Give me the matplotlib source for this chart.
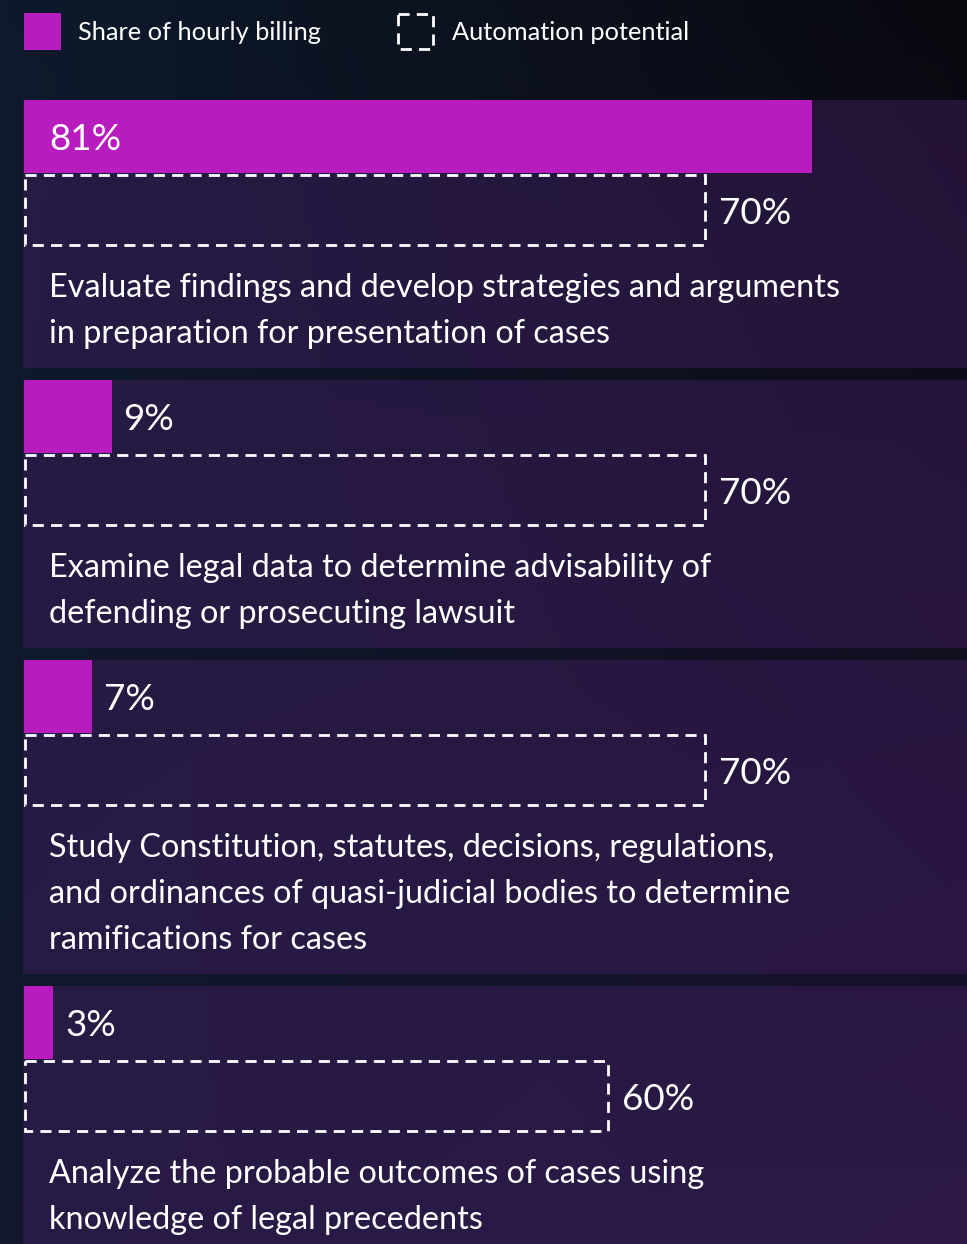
import numpy as np
import matplotlib.pyplot as plt
from matplotlib.patches import Rectangle
from matplotlib.colors import to_rgb

# data
tasks = [
    "Evaluate findings and develop strategies and arguments\nin preparation for presentation of cases",
    "Examine legal data to determine advisability of\ndefending or prosecuting lawsuit",
    "Study Constitution, statutes, decisions, regulations,\nand ordinances of quasi-judicial bodies to determine\nramifications for cases",
    "Analyze the probable outcomes of cases using\nknowledge of legal precedents",
]
billing_share = [81, 9, 7, 3]
automation = [70, 70, 70, 60]
legend_labels = ["Share of hourly billing", "Automation potential"]

MAGENTA = "#b81cbf"
FONT = ["Lato", "DejaVu Sans"]

W, H = 967, 1244
PX = 9.73          # pixels per percentage point
X0 = 24            # left edge of bars in pixels

fig = plt.figure(figsize=(W / 100, H / 100), dpi=100)
ax = fig.add_axes([0, 0, 1, 1])
ax.set_xlim(-X0 / PX, (W - X0) / PX)
ax.set_ylim(H, 0)
ax.axis("off")

def px(v):
    return v / PX

# background gradient (4 corners)
tl, tr = np.array(to_rgb("#0e1a2c")), np.array(to_rgb("#09090f"))
bl, br = np.array(to_rgb("#12182e")), np.array(to_rgb("#1a1430"))
u = np.linspace(0, 1, 200)[None, :, None]
v = np.linspace(0, 1, 250)[:, None, None]
bg = (1 - v) * ((1 - u) * tl + u * tr) + v * ((1 - u) * bl + u * br)
ax.imshow(bg, extent=[-X0 / PX, (W - X0) / PX, H, 0], aspect="auto", zorder=0)

dash = (0, (4, 2.6))

# rows
top = 100
for task, share, auto in zip(tasks, billing_share, automation):
    nlines = task.count("\n") + 1
    height = 186 + (nlines - 1) * 46 + 36
    ax.add_patch(Rectangle((px(-1), top), px(W), height,
                           facecolor="#3d1d5c", alpha=0.5, lw=0, zorder=1))
    # share of hourly billing bar
    ax.barh(top + 36.5, share, height=73, left=0, color=MAGENTA, zorder=2)
    if share > 30:
        xs = px(25)
    else:
        xs = share + px(12)
    ax.text(xs, top + 40, f"{share}%", color="white", fontsize=26.5,
            family=FONT, va="center", ha="left", zorder=3)
    # automation potential dashed box
    ax.add_patch(Rectangle((px(1), top + 75), auto - px(1), 70, fill=False,
                           edgecolor="white", lw=2, linestyle=dash, zorder=3))
    ax.text(auto + px(14), top + 114, f"{auto}%", color="white", fontsize=26.5,
            family=FONT, va="center", ha="left", zorder=3)
    # description
    ax.text(px(25), top + 186 - 13, task, color="white", fontsize=23.3,
            family=FONT, va="top", ha="left", linespacing=1.66, zorder=3)
    top += height + 12

# legend
ax.add_patch(Rectangle((0, 13), px(37), 37, facecolor=MAGENTA, lw=0, zorder=3))
ax.text(px(54), 33, legend_labels[0], color="white", fontsize=18.3, family=FONT,
        va="center", ha="left", zorder=3)
ax.add_patch(Rectangle((px(374), 14), px(35), 35, fill=False, edgecolor="white",
                       lw=2, linestyle=dash, zorder=3))
ax.text(px(428), 33, legend_labels[1], color="white", fontsize=18.3, family=FONT,
        va="center", ha="left", zorder=3)

fig.savefig("out.png", dpi=100)
